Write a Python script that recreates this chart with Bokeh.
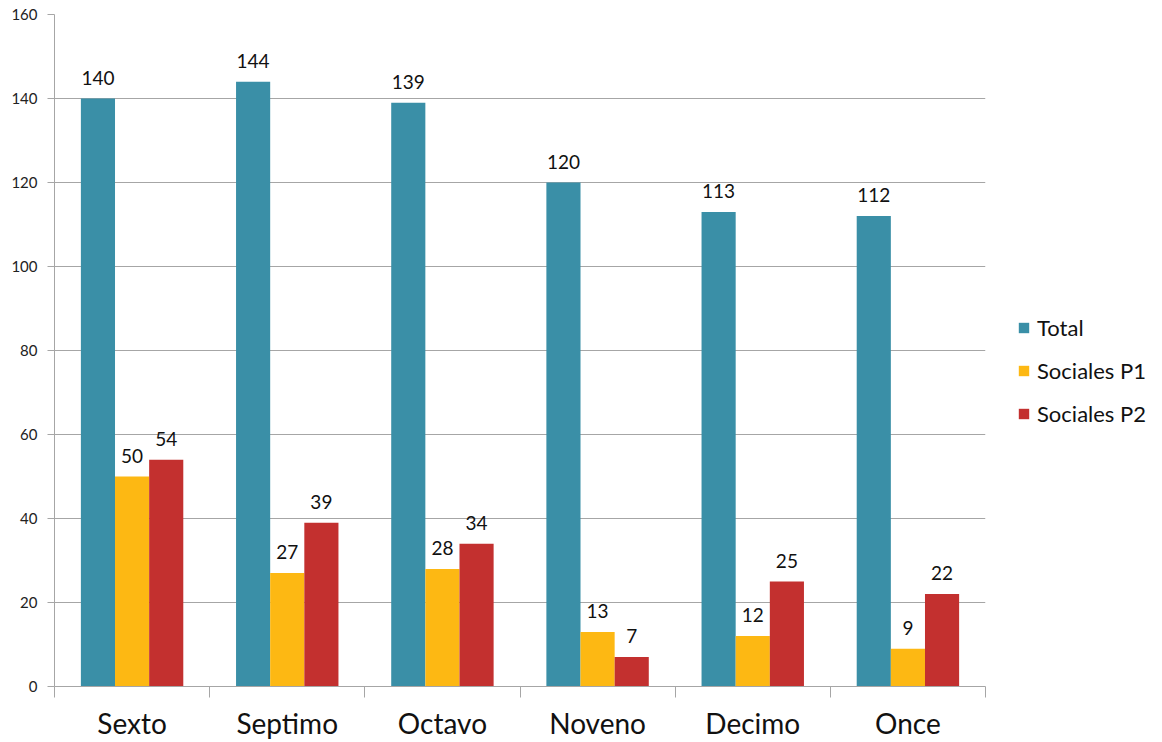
from bokeh.plotting import figure
from bokeh.models import ColumnDataSource, LabelSet, Legend, LegendItem, FixedTicker, Range1d
from bokeh.core.properties import value
from bokeh.embed import file_html
from bokeh.resources import INLINE

categories = ["Sexto", "Septimo", "Octavo", "Noveno", "Decimo", "Once"]
total = [140, 144, 139, 120, 113, 112]
sociales_p1 = [50, 27, 28, 13, 12, 9]
sociales_p2 = [54, 39, 34, 7, 25, 22]
series_names = ["Total", "Sociales P1", "Sociales P2"]
colors = ["#3A8FA7", "#FDB813", "#C3302F"]
y_ticks = [0, 20, 40, 60, 80, 100, 120, 140, 160]

FONT = "Lato"
bar_w = 0.22
offsets = [-bar_w, 0.0, bar_w]

p = figure(frame_width=931, frame_height=672, output_backend="svg", toolbar_location=None,
           x_range=Range1d(0, len(categories)), y_range=Range1d(0, 160),
           min_border_left=54, min_border_top=14, min_border_bottom=54, min_border_right=175)
p.outline_line_color = None
p.background_fill_color = "white"

items = []
for name, vals, col, off in zip(series_names, [total, sociales_p1, sociales_p2], colors, offsets):
    xs = [i + 0.5 + off for i in range(len(categories))]
    src = ColumnDataSource(dict(x=xs, top=vals, lab=[str(v) for v in vals]))
    r = p.vbar(x="x", top="top", width=bar_w, source=src, fill_color=col, line_color=None)
    items.append(LegendItem(label=name, renderers=[r]))
    p.add_layout(LabelSet(x="x", y="top", text="lab", source=src, text_align="center",
                          text_baseline="bottom", y_offset=14, text_font=value(FONT),
                          text_font_size=value("19px"), text_color="#111111"))

# grid
p.xgrid.grid_line_color = None
p.ygrid.grid_line_color = "#A6A6A6"
p.ygrid.grid_line_width = 1
p.yaxis.ticker = FixedTicker(ticks=y_ticks)

# y axis
p.yaxis.axis_line_color = "#A6A6A6"
p.yaxis.major_tick_line_color = "#A6A6A6"
p.yaxis.major_tick_out = 7
p.yaxis.major_tick_in = 0
p.yaxis.minor_tick_line_color = None
p.yaxis.major_label_text_font = FONT
p.yaxis.major_label_text_font_size = "15px"
p.yaxis.major_label_text_color = "#222222"
p.yaxis.major_label_standoff = 10

# x axis: labels at category centers, ticks at boundaries
p.xaxis.ticker = FixedTicker(ticks=[i + 0.5 for i in range(len(categories))],
                             minor_ticks=list(range(len(categories) + 1)))
p.xaxis.major_label_overrides = {i + 0.5: c for i, c in enumerate(categories)}
p.xaxis.axis_line_color = "#A6A6A6"
p.xaxis.major_tick_line_color = None
p.xaxis.major_tick_out = 0
p.xaxis.major_tick_in = 0
p.xaxis.minor_tick_line_color = "#A6A6A6"
p.xaxis.minor_tick_out = 11
p.xaxis.minor_tick_in = 0
p.xaxis.major_label_text_font = FONT
p.xaxis.major_label_text_font_size = "28px"
p.xaxis.major_label_text_color = "#111111"
p.xaxis.major_label_standoff = 8

legend = Legend(items=items, location=(32, 259), border_line_color=None,
                label_text_font=FONT, label_text_font_size="22px", label_text_color="#111111",
                glyph_width=13, glyph_height=13, label_standoff=7, spacing=16, label_height=24,
                padding=0, margin=0, background_fill_alpha=0)
p.add_layout(legend, "right")

open("out.html", "w").write(file_html(p, INLINE))
